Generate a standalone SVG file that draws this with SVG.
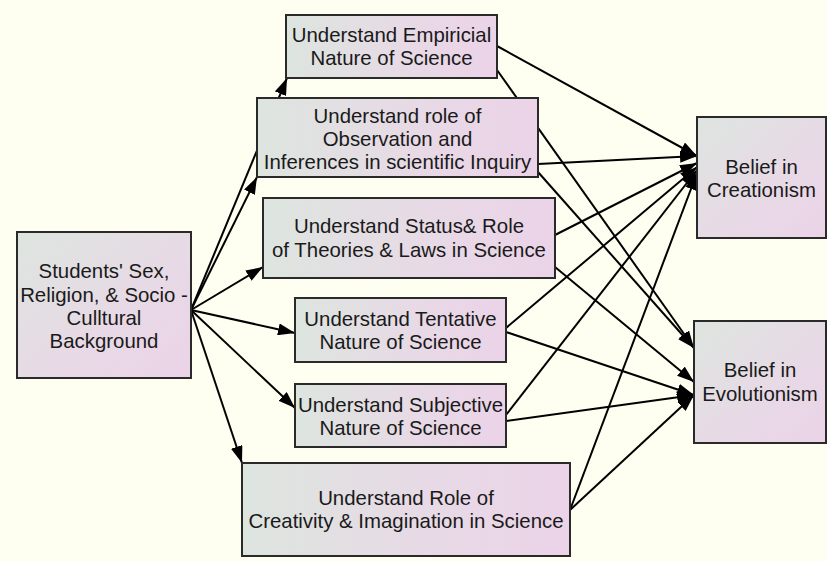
<svg xmlns="http://www.w3.org/2000/svg" width="827" height="561" viewBox="0 0 827 561">
<defs>
<linearGradient id="gw" x1="0" y1="0" x2="1" y2="0">
<stop offset="0" stop-color="#dde5df"/>
<stop offset="0.6" stop-color="#e8d9e6"/>
<stop offset="1" stop-color="#ebd3e8"/>
</linearGradient>
<linearGradient id="gd" x1="0" y1="0" x2="1" y2="1">
<stop offset="0" stop-color="#dde5df"/>
<stop offset="0.6" stop-color="#e8d9e6"/>
<stop offset="1" stop-color="#ebd3e8"/>
</linearGradient>
<marker id="ah" markerUnits="userSpaceOnUse" markerWidth="18" markerHeight="12" refX="17" refY="6" orient="auto">
<path d="M0,0 L17,6 L0,12 z" fill="#000"/>
</marker>
<style>
.n rect{stroke:#2a2a2a;stroke-width:2}
.w rect{fill:url(#gw)}
.d rect{fill:url(#gd)}
text{font-family:"Liberation Sans",Arial,sans-serif;font-size:20.4px;fill:#1a1a1a;text-anchor:middle}
.e line{stroke:#000;stroke-width:2;marker-end:url(#ah)}
</style>
</defs>
<rect x="0" y="0" width="827" height="561" fill="#fefff0"/>
<g id="connectors" class="e">
<line x1="191" y1="310" x2="287" y2="78"/>
<line x1="191" y1="310" x2="257" y2="177"/>
<line x1="191" y1="310" x2="263" y2="267"/>
<line x1="191" y1="310" x2="295" y2="333"/>
<line x1="191" y1="310" x2="295" y2="408"/>
<line x1="191" y1="310" x2="242" y2="463"/>
<line x1="497" y1="46" x2="697" y2="156"/>
<line x1="538" y1="164" x2="697" y2="156"/>
<line x1="555" y1="235" x2="697" y2="163"/>
<line x1="506" y1="328" x2="697" y2="167"/>
<line x1="506" y1="415" x2="697" y2="170"/>
<line x1="570" y1="510" x2="697" y2="173"/>
<line x1="497" y1="70" x2="694" y2="348"/>
<line x1="538" y1="172" x2="694" y2="348"/>
<line x1="555" y1="267" x2="694" y2="382"/>
<line x1="506" y1="332" x2="694" y2="395"/>
<line x1="506" y1="421" x2="694" y2="395"/>
<line x1="570" y1="510" x2="694" y2="395"/>
</g>
<g id="n-background" class="n d">
<rect x="17" y="232" width="174" height="146"/>
<text x="104" y="278">Students' Sex,</text>
<text x="104" y="302">Religion, &amp; Socio -</text>
<text x="104" y="325">Culltural</text>
<text x="104" y="348">Background</text>
</g>
<g id="n-empirical" class="n w">
<rect x="286" y="15" width="211" height="63"/>
<text x="391.5" y="42">Understand Empiricial</text>
<text x="391.5" y="65">Nature of Science</text>
</g>
<g id="n-observation" class="n w">
<rect x="257" y="98" width="281" height="79"/>
<text x="397.5" y="123">Understand role of</text>
<text x="397.5" y="146">Observation and</text>
<text x="397.5" y="169">Inferences in scientific Inquiry</text>
</g>
<g id="n-status" class="n w">
<rect x="263" y="198" width="292" height="80"/>
<text x="409" y="233">Understand Status&amp; Role</text>
<text x="409" y="257">of Theories &amp; Laws in Science</text>
</g>
<g id="n-tentative" class="n w">
<rect x="295" y="298" width="211" height="64"/>
<text x="400.5" y="326">Understand Tentative</text>
<text x="400.5" y="349">Nature of Science</text>
</g>
<g id="n-subjective" class="n w">
<rect x="295" y="384" width="211" height="63"/>
<text x="400.5" y="412">Understand Subjective</text>
<text x="400.5" y="435">Nature of Science</text>
</g>
<g id="n-creativity" class="n w">
<rect x="242" y="463" width="328" height="93"/>
<text x="406" y="505">Understand Role of</text>
<text x="406" y="528">Creativity &amp; Imagination in Science</text>
</g>
<g id="n-creationism" class="n d">
<rect x="697" y="117" width="129" height="121"/>
<text x="761.5" y="174">Belief in</text>
<text x="761.5" y="197">Creationism</text>
</g>
<g id="n-evolutionism" class="n d">
<rect x="694" y="321" width="132" height="122"/>
<text x="760" y="377">Belief in</text>
<text x="760" y="401">Evolutionism</text>
</g>
</svg>
